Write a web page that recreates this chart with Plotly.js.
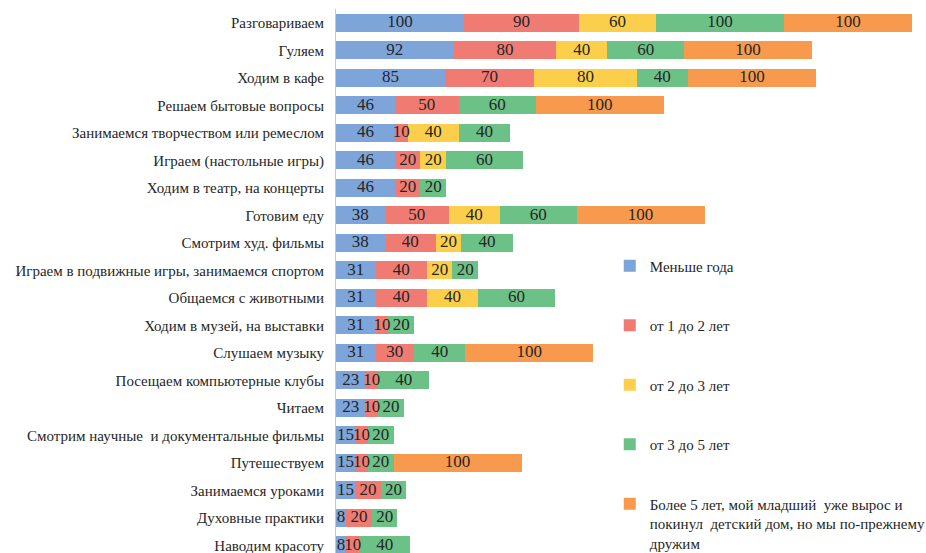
<!DOCTYPE html>
<html>
<head>
<meta charset="utf-8">
<script src="https://cdn.plot.ly/plotly-3.0.1.min.js"></script>
<style>
  html, body { margin: 0; padding: 0; background: #ffffff; }
  #chart { width: 926px; height: 553px; }
</style>
</head>
<body>
<div id="chart"></div>
<script>
// Joint activities, by how long the friendship has lasted
const categories = [
  'Разговариваем',
  'Гуляем',
  'Ходим в кафе',
  'Решаем бытовые вопросы',
  'Занимаемся творчеством или ремеслом',
  'Играем (настольные игры)',
  'Ходим в театр, на концерты',
  'Готовим еду',
  'Смотрим худ. фильмы',
  'Играем в подвижные игры, занимаемся спортом',
  'Общаемся с животными',
  'Ходим в музей, на выставки',
  'Слушаем музыку',
  'Посещаем компьютерные клубы',
  'Читаем',
  'Смотрим научные  и документальные фильмы',
  'Путешествуем',
  'Занимаемся уроками',
  'Духовные практики',
  'Наводим красоту'
];

const seriesNames = [
  'Меньше года',
  'от 1 до 2 лет',
  'от 2 до 3 лет',
  'от 3 до 5 лет',
  'Более 5 лет, мой младший  уже вырос и<br>покинул  детский дом, но мы по-прежнему<br>дружим'
];

const lessThanYear = [100, 92, 85, 46, 46, 46, 46, 38, 38, 31, 31, 31, 31, 23, 23, 15, 15, 15, 8, 8];
const oneToTwo     = [90, 80, 70, 50, 10, 20, 20, 50, 40, 40, 40, 10, 30, 10, 10, 10, 10, 20, 20, 10];
const twoToThree   = [60, 40, 80, null, 40, 20, null, 40, 20, 20, 40, null, null, null, null, null, null, null, null, null];
const threeToFive  = [100, 60, 40, 60, 40, 60, 20, 60, 40, 20, 60, 20, 40, 40, 20, 20, 20, 20, 20, 40];
const overFive     = [100, 100, 100, 100, null, null, null, 100, null, null, null, null, 100, null, null, null, 100, null, null, null];

const seriesValues = [lessThanYear, oneToTwo, twoToThree, threeToFive, overFive];
const seriesColors = ['#7da5d9', '#ef7b72', '#fbcf4b', '#6cc187', '#f79a4e'];

const FONT = 'Liberation Serif, Times New Roman, serif';

// Stacked bar segments
const barTraces = seriesValues.map((vals, i) => ({
  type: 'bar',
  orientation: 'h',
  name: seriesNames[i],
  legendgroup: 'g' + i,
  y: categories,
  x: vals,
  marker: { color: seriesColors[i], line: { width: 0 } },
  hoverinfo: 'x+y+name'
}));

// Value labels centred on each segment, drawn above all bars so narrow
// segments keep their numbers readable
const running = categories.map(() => 0);
const labelTraces = seriesValues.map((vals, i) => {
  const xs = [], ys = [], txt = [];
  vals.forEach((v, k) => {
    if (v === null) return;
    xs.push(running[k] + v / 2);
    ys.push(categories[k]);
    txt.push(String(v));
    running[k] += v;
  });
  return {
    type: 'scatter',
    mode: 'text',
    x: xs,
    y: ys,
    text: txt,
    textposition: 'middle center',
    textfont: { family: FONT, size: 17, color: '#262626' },
    showlegend: false,
    hoverinfo: 'skip',
    cliponaxis: false
  };
});

const layout = {
  width: 926,
  height: 553,
  barmode: 'stack',
  bargap: 0.345,
  paper_bgcolor: '#ffffff',
  plot_bgcolor: '#ffffff',
  margin: { l: 336, r: 0, t: 9, b: 0, pad: 0, autoexpand: false },
  font: { family: FONT, size: 15, color: '#262626' },
  showlegend: true,
  legend: {
    x: 0.464,
    xanchor: 'left',
    y: 0.558,
    yanchor: 'top',
    traceorder: 'grouped',
    tracegroupgap: 37,
    valign: 'top',
    itemwidth: 30,
    bgcolor: 'rgba(0,0,0,0)',
    font: { family: FONT, size: 15, color: '#262626' }
  },
  xaxis: {
    range: [0, 461],
    showgrid: false,
    zeroline: false,
    showticklabels: false,
    showline: false,
    ticks: ''
  },
  yaxis: {
    type: 'category',
    categoryorder: 'array',
    categoryarray: categories,
    range: [19.28, -0.5],
    showgrid: false,
    zeroline: false,
    showline: true,
    linecolor: '#c9c9c9',
    linewidth: 1,
    ticks: '',
    ticklabelstandoff: 8,
    tickfont: { family: FONT, size: 15, color: '#262626' }
  }
};

Plotly.newPlot('chart', barTraces.concat(labelTraces), layout, { displayModeBar: false, staticPlot: true });
</script>
</body>
</html>
